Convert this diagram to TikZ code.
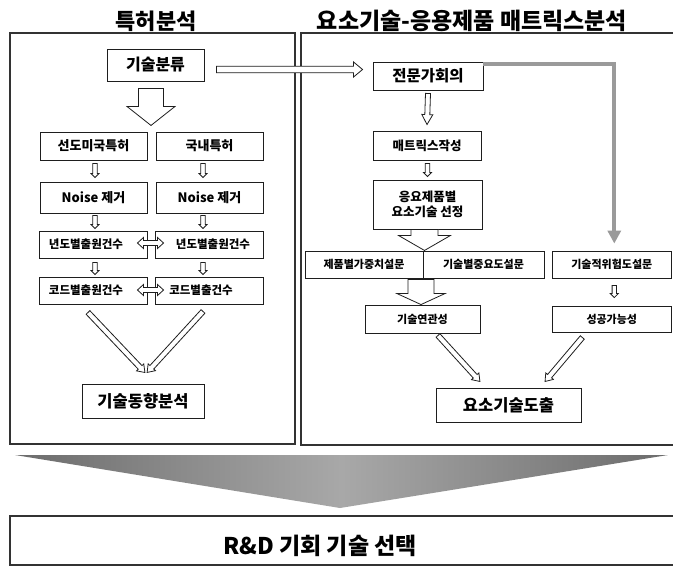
\documentclass[tikz,border=0pt]{standalone}
\usepackage{fontspec}
\setmainfont{Noto Sans CJK KR}
\usetikzlibrary{arrows.meta,calc}
\newcommand\fs[1]{\fontsize{#1pt}{#1pt}\selectfont}
\definecolor{linec}{HTML}{1E1E1E}
\definecolor{graya}{HTML}{9A9A9A}
\definecolor{tridark}{HTML}{6C6C6C}
\definecolor{trilight}{HTML}{A8A8A8}
\newcommand\arwprep[2]{%
  \path let \p1=#1, \p2=#2 in \pgfextra{%
    \pgfmathsetmacro\myDX{\x2-\x1}\pgfmathsetmacro\myDY{\y2-\y1}%
    \xdef\myX{\x1}\xdef\myY{\y1}\xdef\myDXg{\myDX}\xdef\myDYg{\myDY}};%
  \pgfmathsetmacro\myA{atan2(\myDYg,\myDXg)}%
  \pgfmathsetmacro\myL{veclen(\myDXg,\myDYg)}%
}
% single hollow arrow: [style]{start}{end}{shaft half}{head half}{head length}
\newcommand\hsarrow[6][]{\arwprep{#2}{#3}%
  \draw[arw,#1,shift={(\myX,\myY)},rotate=\myA] (0,-#4) -- ({\myL-#6},-#4) -- ({\myL-#6},-#5) -- (\myL,0) -- ({\myL-#6},#5) -- ({\myL-#6},#4) -- (0,#4) -- cycle;}
% double-headed hollow arrow
\newcommand\hdarrow[6][]{\arwprep{#2}{#3}%
  \draw[arw,#1,shift={(\myX,\myY)},rotate=\myA] (0,0) -- (#6,-#5) -- (#6,-#4) -- ({\myL-#6},-#4) -- ({\myL-#6},-#5) -- (\myL,0) -- ({\myL-#6},#5) -- ({\myL-#6},#4) -- (#6,#4) -- (#6,#5) -- cycle;}
\tikzset{
  box/.style={draw=linec, line width=0.9pt, fill=white, inner sep=0pt, align=center},
  arw/.style={draw=linec, fill=white, line width=0.8pt, line join=miter},
  panel/.style={draw=black!80, line width=1.2pt},
  ttl/.style={inner sep=0pt},
}
\begin{document}
\begin{tikzpicture}[x=1pt,y=-1pt]
\useasboundingbox (0,0) rectangle (673,566);
\fill[white] (0,0) rectangle (673,566);
\clip (0,0) rectangle (673,566);

% titles
\node[ttl, font=\fs{22}\bfseries] (t1) at (156,21) {특허분석};
\node[ttl, font=\fs{23}\bfseries] (t2) at (472,21) {요소기술-응용제품 매트릭스분석};

% panels
\draw[panel] (10,33) rectangle (295,444);
\draw[panel] (301,33) rectangle (690,445);

% left panel nodes
\node[box, minimum width=97pt, minimum height=32pt, font=\fs{16}\bfseries] (bunryu) at (155.5,65) {기술분류};
\node[box, minimum width=107pt, minimum height=28pt, font=\fs{13}\bfseries] (seondo) at (93.5,146) {선도미국특허};
\node[box, minimum width=107pt, minimum height=28pt, font=\fs{13}\bfseries] (gungnae) at (209.5,146) {국내특허};
\node[box, minimum width=107pt, minimum height=31pt, font=\fs{13}\bfseries] (noise1) at (93.5,197.5) {Noise 제거};
\node[box, minimum width=107pt, minimum height=31pt, font=\fs{13}\bfseries] (noise2) at (209.5,197.5) {Noise 제거};
\node[box, minimum width=108pt, minimum height=27pt, font=\fs{11.5}\bfseries] (year1) at (93,244.5) {년도별출원건수\hspace*{14pt}};
\node[box, minimum width=108pt, minimum height=27pt, font=\fs{11.5}\bfseries] (year2) at (209,244.5) {\hspace*{8pt}년도별출원건수};
\node[box, minimum width=108pt, minimum height=27pt, font=\fs{11.5}\bfseries] (code1) at (93,290.5) {코드별출원건수\hspace*{14pt}};
\node[box, minimum width=108pt, minimum height=27pt, font=\fs{11.5}\bfseries] (code2) at (209,290.5) {코드별출건수\hspace*{16pt}};
\node[box, minimum width=122pt, minimum height=34pt, font=\fs{16.5}\bfseries] (trend) at (143,401) {기술동향분석};

% right panel nodes
\node[box, minimum width=110pt, minimum height=28pt, font=\fs{15.5}\bfseries] (expert) at (428,76) {전문가회의};
\node[box, minimum width=108pt, minimum height=29pt, font=\fs{12.5}\bfseries] (matrix) at (427,145.5) {매트릭스작성};
\node[box, minimum width=109pt, minimum height=49pt, font=\fs{12.5}\bfseries, align=center] (select) at (427.5,204.5) {응요제품별\\[3pt]요소기술 선정};
\node[box, minimum width=118pt, minimum height=27pt, font=\fs{11}\bfseries] (q1) at (364,264.5) {제품별가중치설문};
\node[box, minimum width=121pt, minimum height=27pt, font=\fs{11}\bfseries] (q2) at (483.5,264.5) {기술별중요도설문};
\node[box, minimum width=119pt, minimum height=27pt, font=\fs{11}\bfseries] (q3) at (611.8,264.5) {기술적위험도설문};
\node[box, minimum width=115pt, minimum height=28pt, font=\fs{11}\bfseries] (rel) at (422.5,319) {기술연관성};
\node[box, minimum width=119pt, minimum height=26pt, font=\fs{11}\bfseries] (succ) at (611.8,319) {성공가능성};
\node[box, minimum width=145pt, minimum height=34pt, font=\fs{16.5}\bfseries] (derive) at (508.5,405) {요소기술도출};

% left arrows
\hsarrow{([xshift=-4.5pt,yshift=-7pt]bunryu.south)}{([xshift=-4.5pt,yshift=-44pt]bunryu.south)}{12.5}{24}{19}
\hsarrow{([xshift=1.5pt,yshift=-3pt]seondo.south)}{([xshift=1.5pt,yshift=4pt]noise1.north)}{2.2}{4}{4}
\hsarrow{([xshift=-6.5pt,yshift=-3pt]gungnae.south)}{([xshift=-6.5pt,yshift=4pt]noise2.north)}{2.2}{4}{4}
\hsarrow{([xshift=1.5pt,yshift=-2pt]noise1.south)}{([xshift=2pt,yshift=2pt]year1.north)}{2.2}{4}{4}
\hsarrow{([xshift=-6.5pt,yshift=-2pt]noise2.south)}{([xshift=-6pt,yshift=2pt]year2.north)}{2.2}{4}{4}
\hsarrow{([xshift=2pt,yshift=-4pt]year1.south)}{([xshift=2pt,yshift=2pt]code1.north)}{2.2}{4}{4}
\hsarrow{([xshift=-6pt,yshift=-4pt]year2.south)}{([xshift=-6pt,yshift=2pt]code2.north)}{2.2}{4}{4}
\hdarrow{([xshift=-10pt,yshift=1.5pt]year1.east)}{([xshift=9pt,yshift=1.5pt]year2.west)}{2.5}{5.5}{6}
\hdarrow{([xshift=-10pt,yshift=0.5pt]code1.east)}{([xshift=9pt,yshift=0.5pt]code2.west)}{2.5}{5.5}{6}
\hsarrow{([xshift=-5pt,yshift=-8pt]code1.south)}{([xshift=2pt,yshift=11pt]trend.north)}{2.6}{5}{7}
\hsarrow{([xshift=-6pt,yshift=-7pt]code2.south)}{([xshift=4pt,yshift=11pt]trend.north)}{2.6}{5}{7}

% cross arrow
\hsarrow{([xshift=12pt,yshift=-4.5pt]bunryu.east)}{([xshift=-10pt,yshift=6.5pt]expert.west)}{3.3}{7.5}{9}

% right arrows
\draw[graya, line width=4pt, -{Triangle[width=13pt,length=13pt]}] ([yshift=-2pt]expert.north east) -| ([xshift=2.5pt,yshift=7pt]q3.north);
\hsarrow{([yshift=-3pt]expert.south)}{([yshift=6pt]matrix.north)}{2.5}{5.5}{10}
\hsarrow{([xshift=0.5pt,yshift=-3pt]matrix.south)}{([yshift=3pt]select.north)}{2.2}{4}{4}
\hsarrow{([xshift=-3pt]select.south)}{([xshift=-3pt,yshift=-21pt]select.south)}{13.5}{26}{15}
\hsarrow{([xshift=-1.5pt,yshift=25pt]rel.north)}{([xshift=-1.5pt]rel.north)}{13}{24}{11}
\hsarrow{([xshift=2.5pt,yshift=-7pt]q3.south)}{([xshift=2.5pt,yshift=8pt]succ.north)}{2.2}{4}{4}
\hsarrow{([xshift=15.5pt,yshift=-2pt]rel.south)}{([xshift=-28.5pt,yshift=6pt]derive.north)}{2.6}{5}{7}
\hsarrow{([xshift=-29.5pt,yshift=-5pt]succ.south)}{([xshift=36.5pt,yshift=6pt]derive.north)}{2.6}{5}{7}

% bottom
\shade[left color=tridark, right color=tridark, middle color=trilight] (15,455) -- (668,455) -- (340,508) -- cycle;
\draw[panel] (10,516) rectangle (690,565);
\node[font=\fs{23}\bfseries, inner sep=0pt] (rd) at (320,546) {R\&D 기회 기술 선택};
\end{tikzpicture}
\end{document}
